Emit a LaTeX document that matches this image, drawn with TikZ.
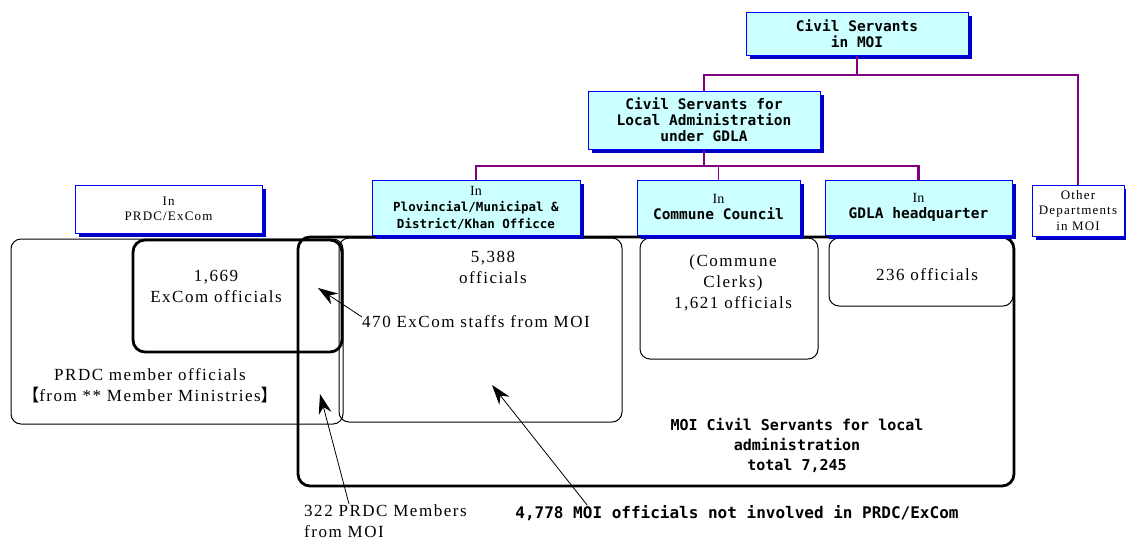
\documentclass[tikz,border=0pt]{standalone}
\usepackage{fontspec}
\setmainfont{Liberation Serif}
\setmonofont{DejaVu Sans Mono}
\newfontfamily\cjkfont{Noto Sans CJK SC}
\newfontfamily\spacedfont[LetterSpace=9]{Liberation Serif}
\usepackage{tikz}
\usetikzlibrary{positioning,arrows.meta,shadows}
\definecolor{BoxCyan}{HTML}{CCFFFF}
\definecolor{BoxBlue}{HTML}{0000FF}
\definecolor{ShadowBlue}{HTML}{0000C0}
\definecolor{LinkPurple}{HTML}{800080}

\begin{document}
\begin{tikzpicture}[x=1pt,y=-1pt,
        every node/.style={inner sep=0pt, font=\spacedfont\fontsize{17}{21}\selectfont},
        HD/.style={draw=BoxBlue, fill=BoxCyan, line width=1pt, align=center,
            font=\ttfamily\bfseries\fontsize{14.5}{16}\selectfont,
            drop shadow={shadow xshift=4pt, shadow yshift=-4pt,
                fill=ShadowBlue, opacity=1}},
        WB/.style={draw=BoxBlue, fill=white, line width=1pt, align=center,
            font=\spacedfont\fontsize{13}{15.5}\selectfont,
            drop shadow={shadow xshift=4pt, shadow yshift=-4pt,
                fill=ShadowBlue, opacity=1}},
        RB/.style={draw=black, line width=1pt, rounded corners=10pt},
        TB/.style={draw=black, line width=2.8pt, rounded corners=12pt},
        BT/.style={font=\ttfamily\bfseries\fontsize{15}{20}\selectfont, align=center},
        conn/.style={draw=LinkPurple, line width=2.8pt},
        arr/.style={-{Stealth[length=20pt,width=13pt]}, line width=0.8pt},
      ]
      \useasboundingbox (0,0) rectangle (1126,542);

      % Lower count boxes
      \node[RB, minimum width=332pt, minimum height=185pt] (prdcBox) at (177,331.5) {};
      \node[RB, minimum width=283pt, minimum height=184pt] (provBox) at (480.5,330) {};
      \node[RB, minimum width=178pt, minimum height=121pt] (commBox) at (729,298.5) {};
      \node[RB, minimum width=184pt, minimum height=68pt]  (gdlaBox) at (921,272) {};
      \node[TB, minimum width=716pt, minimum height=249pt] (moiBox)  at (656,361.5) {};
      \node[TB, minimum width=209pt, minimum height=112pt] (excomBox) at (237.5,296) {};

      % Header boxes
      \node[HD, minimum width=222pt, minimum height=43pt] (moi) at (857,33.5)
        {Civil Servants\\in MOI};
      \node[HD, minimum width=232pt, minimum height=58pt] (local) at (704,120)
        {Civil Servants for\\Local Administration\\under GDLA};
      \node[HD, minimum width=208pt, minimum height=55pt,
        font=\ttfamily\bfseries\fontsize{12.5}{16.5}\selectfont] (prov) at (476,207.5)
        {{\rmfamily\mdseries\fontsize{14}{16.5}\selectfont In}\\Plovincial/Municipal \&\\District/Khan Officce};
      \node[HD, minimum width=163pt, minimum height=55pt] (comm) at (718.5,207.5)
        {{\rmfamily\mdseries\fontsize{14}{16}\selectfont In}\\Commune Council};
      \node[HD, minimum width=187pt, minimum height=55pt] (gdla) at (918.5,207.5)
        {{\rmfamily\mdseries\fontsize{14}{16}\selectfont In}\\GDLA headquarter};
      \node[WB, minimum width=92pt, minimum height=51pt] (other) at (1078,210.5)
        {Other\\Departments\\in MOI};
      \node[WB, minimum width=187pt, minimum height=48pt] (prdc) at (168.5,209)
        {In\\PRDC/ExCom};

      % Purple links
      \coordinate (busA) at (857,75);
      \coordinate (busB) at (704,166);
      \draw[conn] (moi.south) -- (busA);
      \draw[conn] (local.north) |- (busA) -| (other.north);
      \draw[conn] (local.south) -- (busB);
      \draw[conn] (prov.north) |- (busB) -| (gdla.north);
      \draw[conn, line width=1pt] (comm.north) -- (comm.north |- busB);

      % Counts
      \node[align=center] (excomTxt) at (216,286) {1,669\\ExCom officials};
      \node[align=center] (prdcTxt) at (150,386)
        {PRDC member officials\\{\cjkfont 【}from ** Member Ministries{\cjkfont 】}};
      \node[align=center] (provTxt) at (493,267) {5,388\\officials};
      \node[anchor=west] (staffs) at (362,322) {470 ExCom staffs from MOI};
      \node[align=center] (commTxt) at (733,283) {(Commune\\Clerks)\\1,621 officials};
      \node (gdlaTxt) at (927,275) {236 officials};
      \node[BT] (total) at (797,445) {MOI Civil Servants for local\\administration\\total 7,245};
      \node[align=left, anchor=north west] (members) at (304,504)
        {322 PRDC Members\\from MOI};
      \node[BT, font=\ttfamily\bfseries\fontsize{16}{20}\selectfont] (notinv) at (737,513)
        {4,778 MOI officials not involved in PRDC/ExCom};

      % Arrow tips
      \coordinate (excomTip) at (318,288);
      \coordinate (edgeTip)  at (320,394);
      \coordinate (provTip)  at (492,385);

      \draw[arr] ([yshift=5pt]staffs.west) -- (excomTip);
      \draw[arr] ([xshift=45pt]members.north west) -- (edgeTip);
      \draw[arr] ([xshift=72pt]notinv.north west) -- (provTip);

    \end{tikzpicture}
\end{document}
